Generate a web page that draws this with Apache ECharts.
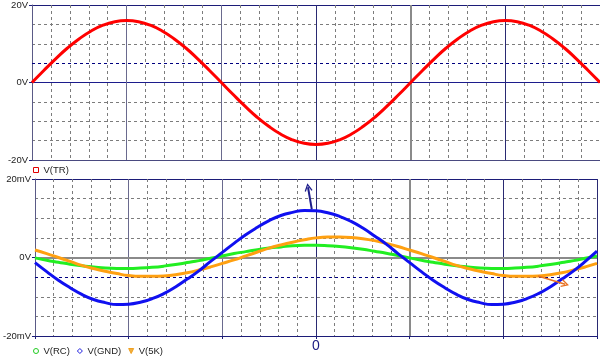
<!DOCTYPE html>
<html>
<head>
<meta charset="utf-8">
<script src="https://cdn.jsdelivr.net/npm/echarts@6/dist/echarts.min.js"></script>
<style>html,body{margin:0;padding:0;background:#fff}#c{width:600px;height:360px}</style>
</head>
<body>
<div id="c"></div>
<script>
// x positions (divisions relative to centre "0"), read every 1/8 division
const xs = [-3, -2.875, -2.75, -2.625, -2.5, -2.375, -2.25, -2.125,
            -2, -1.875, -1.75, -1.625, -1.5, -1.375, -1.25, -1.125,
            -1, -0.875, -0.75, -0.625, -0.5, -0.375, -0.25, -0.125,
            0, 0.125, 0.25, 0.375, 0.5, 0.625, 0.75, 0.875,
            1, 1.125, 1.25, 1.375, 1.5, 1.625, 1.75, 1.875,
            2, 2.125, 2.25, 2.375, 2.5, 2.625, 2.75, 2.875, 3];
// top panel (V)
const vTR  = [0, 3.1, 6.1, 8.9, 11.3, 13.3, 14.8, 15.7,
              16, 15.7, 14.8, 13.3, 11.3, 8.9, 6.1, 3.1,
              0, -3.1, -6.1, -8.9, -11.3, -13.3, -14.8, -15.7,
              -16, -15.7, -14.8, -13.3, -11.3, -8.9, -6.1, -3.1,
              0, 3.1, 6.1, 8.9, 11.3, 13.3, 14.8, 15.7,
              16, 15.7, 14.8, 13.3, 11.3, 8.9, 6.1, 3.1, 0];
// bottom panel (mV)
const vRC  = [-0.1, -0.7, -1.2, -1.7, -2.1, -2.4, -2.7, -2.8,
              -2.8, -2.7, -2.5, -2.2, -1.8, -1.3, -0.8, -0.2,
              0.4, 1.0, 1.5, 2.0, 2.4, 2.7, 3.0, 3.1,
              3.1, 3.0, 2.8, 2.5, 2.1, 1.6, 1.1, 0.5,
              -0.1, -0.7, -1.2, -1.7, -2.1, -2.4, -2.7, -2.8,
              -2.8, -2.7, -2.5, -2.2, -1.8, -1.3, -0.8, -0.2, 0.4];
const vGND = [-1.3, -3.6, -5.8, -7.7, -9.4, -10.7, -11.5, -12.0,
              -11.9, -11.4, -10.5, -9.2, -7.5, -5.5, -3.4, -1.0,
              1.3, 3.6, 5.8, 7.7, 9.4, 10.7, 11.5, 12.0,
              11.9, 11.4, 10.5, 9.2, 7.5, 5.5, 3.4, 1.0,
              -1.3, -3.6, -5.8, -7.7, -9.4, -10.7, -11.5, -12.0,
              -11.9, -11.4, -10.5, -9.2, -7.5, -5.5, -3.4, -1.0, 1.6];
const v5K  = [1.9, 1.0, 0.0, -1.0, -2.0, -2.8, -3.5, -4.1,
              -4.6, -4.8, -4.8, -4.7, -4.4, -3.9, -3.2, -2.4,
              -1.5, -0.6, 0.4, 1.4, 2.4, 3.2, 3.9, 4.5,
              5.0, 5.2, 5.2, 5.1, 4.8, 4.3, 3.6, 2.8,
              1.9, 1.0, 0.0, -1.0, -2.0, -2.8, -3.5, -4.1,
              -4.6, -4.8, -4.8, -4.7, -4.4, -3.9, -3.2, -2.4, -1.5];
// tick labels
const topTickLabels = ['-20V', '0V', '20V'];
const botTickLabels = ['-20mV', '0V', '20mV'];
const xTickLabel = '0';
// annotation arrows [x1,y1,x2,y2]
const arrowGND = [-0.045, 12.3, -0.085, 17.9];
const arrow5K  = [2.37, -4.7, 2.66, -6.8];

const pairs = arr => xs.map((x, i) => [x, arr[i]]);
const FONT = 'Liberation Sans, Arial, sans-serif';
const NAVY = '#1c1c78';
const GRAYNAVY = '#6a6a8e';
const vColors = ['#555580', GRAYNAVY, GRAYNAVY, '#2a2a72', '#8a8a8a', '#2a2a72', '#2a2a72'];

function xAx(gi) {
  return {
    type: 'value', gridIndex: gi, min: -3, max: 3, interval: 1,
    axisLine: { show: true, onZero: false, lineStyle: { color: gi ? NAVY : '#4a4a80', width: 1 } },
    axisTick: { show: gi === 1, length: 3, lineStyle: { color: NAVY } },
    axisLabel: { show: gi === 1, formatter: v => (v === 0 ? xTickLabel : ''), color: '#1a1a80',
                 fontSize: 14, margin: 3, fontFamily: FONT },
    splitLine: { show: true, lineStyle: { color: vColors, width: 1 } },
    minorTick: { show: false, splitNumber: 5 },
    minorSplitLine: { show: true, lineStyle: { color: '#7c7c7c', type: [3, 3], width: 1 } }
  };
}
function yAx(gi, labels, colors) {
  return {
    type: 'value', gridIndex: gi, min: -20, max: 20, interval: 20,
    axisLine: { show: true, onZero: false, lineStyle: { color: '#5a5a86', width: 1 } },
    axisTick: { show: true, length: 3, lineStyle: { color: NAVY } },
    axisLabel: { formatter: v => labels[Math.round((v + 20) / 20)], color: '#222',
                 fontSize: 9.5, margin: 4, fontFamily: FONT },
    splitLine: { show: true, lineStyle: { color: colors, width: 1 } },
    minorTick: { show: false, splitNumber: 4 },
    minorSplitLine: { show: true, lineStyle: { color: '#7c7c7c', type: [3, 3], width: 1 } }
  };
}
const arrowPath = 'path://M0,10 L5,0 L10,10 L8.5,10.8 L5,3.5 L1.5,10.8 Z';
function arrowLine(a, color, w) {
  return {
    silent: true, z: 6, symbol: ['none', arrowPath], symbolSize: [8, 8],
    label: { show: false }, emphasis: { disabled: true },
    lineStyle: { color: color, width: w, type: 'solid' },
    data: [[{ coord: [a[0], a[1]] }, { coord: [a[2], a[3]] }]]
  };
}

const chart = echarts.init(document.getElementById('c'), null, { renderer: 'canvas' });
chart.setOption({
  animation: false,
  backgroundColor: '#fff',
  textStyle: { fontFamily: FONT },
  grid: [
    { left: 32, top: 3, width: 568, height: 157 },
    { left: 32, top: 179, width: 568, height: 157 }
  ],
  xAxis: [xAx(0), xAx(1)],
  yAxis: [
    yAx(0, topTickLabels, ['#4a4a80', '#1c1c8c', NAVY]),
    yAx(1, botTickLabels, [NAVY, '#8a8a8a', NAVY])
  ],
  legend: [
    { left: 33, top: 165, padding: 0, itemWidth: 5, itemHeight: 5, selectedMode: false,
      textStyle: { fontSize: 9.5, color: '#222', fontFamily: FONT },
      data: [{ name: 'V(TR)', icon: 'rect', itemStyle: { color: '#fff', borderColor: '#e00000', borderWidth: 1 } }] },
    { left: 33, top: 346, padding: 0, itemWidth: 5, itemHeight: 5, itemGap: 7, selectedMode: false,
      textStyle: { fontSize: 9.5, color: '#222', fontFamily: FONT },
      data: [
        { name: 'V(RC)', icon: 'circle', itemStyle: { color: '#fff', borderColor: '#22cc22', borderWidth: 1 } },
        { name: 'V(GND)', icon: 'diamond', itemStyle: { color: '#fff', borderColor: '#2020e0', borderWidth: 1 } },
        { name: 'V(5K)', icon: 'path://M0,0 L10,0 L5,10 Z', itemStyle: { color: '#f0b040', borderColor: '#f0a020', borderWidth: 1 } }
      ] }
  ],
  series: [
    { name: 'V(TR)', type: 'line', xAxisIndex: 0, yAxisIndex: 0, data: pairs(vTR), smooth: true,
      showSymbol: false, lineStyle: { color: '#ff0000', width: 3 }, itemStyle: { color: '#ff0000' }, z: 3,
      markLine: { silent: true, z: 1, symbol: 'none', label: { show: false }, emphasis: { disabled: true },
        data: [
          { yAxis: 5, lineStyle: { color: '#000080', type: [3, 3], width: 1 } },
          { xAxis: 1, lineStyle: { color: '#8a8a8a', type: 'solid', width: 2 } }
        ] } },
    { name: 'V(RC)', type: 'line', xAxisIndex: 1, yAxisIndex: 1, data: pairs(vRC), smooth: true,
      showSymbol: false, lineStyle: { color: '#22ee22', width: 3 }, itemStyle: { color: '#22ee22' }, z: 3,
      markLine: { silent: true, z: 1, symbol: 'none', label: { show: false }, emphasis: { disabled: true },
        data: [
          { yAxis: -5, lineStyle: { color: '#000080', type: [3, 3], width: 1 } },
          { yAxis: 0, lineStyle: { color: '#8a8a8a', type: 'solid', width: 2 } },
          { xAxis: 1, lineStyle: { color: '#8a8a8a', type: 'solid', width: 2 } }
        ] } },
    { name: 'V(5K)', type: 'line', xAxisIndex: 1, yAxisIndex: 1, data: pairs(v5K), smooth: true,
      showSymbol: false, lineStyle: { color: '#ffa010', width: 3 }, itemStyle: { color: '#ffa010' }, z: 4,
      markLine: arrowLine(arrow5K, '#e87020', 1.5) },
    { name: 'V(GND)', type: 'line', xAxisIndex: 1, yAxisIndex: 1, data: pairs(vGND), smooth: true,
      showSymbol: false, lineStyle: { color: '#1010f0', width: 3 }, itemStyle: { color: '#1010f0' }, z: 5,
      markLine: arrowLine(arrowGND, '#1e1e8c', 2) }
  ]
});
</script>
</body>
</html>
